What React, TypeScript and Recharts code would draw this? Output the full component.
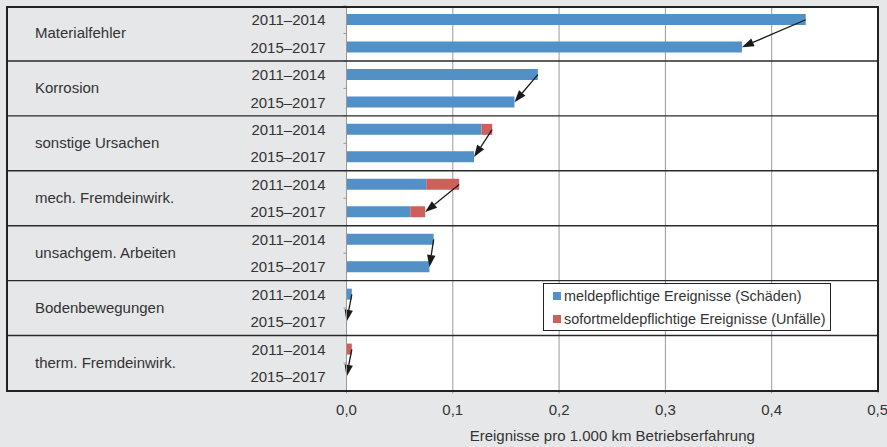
import React from 'react';
import { BarChart, Bar, XAxis, YAxis, CartesianGrid, ReferenceLine, Legend } from 'recharts';

const causes = [
  'Materialfehler',
  'Korrosion',
  'sonstige Ursachen',
  'mech. Fremdeinwirk.',
  'unsachgem. Arbeiten',
  'Bodenbewegungen',
  'therm. Fremdeinwirk.',
];
const periods = ['2011–2014', '2015–2017'];

// Ereignisse pro 1.000 km
const schaeden2011 = [0.432, 0.18, 0.127, 0.075, 0.082, 0.005, 0];
const unfaelle2011 = [0, 0, 0.01, 0.031, 0, 0, 0.005];
const schaeden2015 = [0.372, 0.158, 0.12, 0.06, 0.078, 0, 0];
const unfaelle2015 = [0, 0, 0, 0.014, 0, 0, 0];

const xTicks = [0, 0.1, 0.2, 0.3, 0.4, 0.5];

const rows = causes.flatMap((cause, i) => [
  { key: cause + '|' + periods[0], cause, period: periods[0], first: true, schaeden: schaeden2011[i], unfaelle: unfaelle2011[i] },
  { key: cause + '|' + periods[1], cause, period: periods[1], first: false, schaeden: schaeden2015[i], unfaelle: unfaelle2015[i] },
]);

const W = 887;
const H = 447;
const margin = { top: 6, right: 9, bottom: 6, left: 6 };
const yAxisWidth = 340.5;
const xAxisHeight = 50.5;
const plotH = H - margin.top - margin.bottom - xAxisHeight;
const band = plotH / rows.length;
const font = '"Liberation Sans", Arial, sans-serif';
const textColor = '#333';

const BLUE = '#5191c8';
const RED = '#cd605a';

const CauseTick = (props: any) => {
  const { y, payload, index } = props;
  const row = rows[index];
  const axisX = margin.left + yAxisWidth;
  return (
    <g>
      <text x={axisX - 21} y={y} dy="0.36em" textAnchor="end" fontSize={15} fill={textColor} fontFamily={font}>
        {row ? row.period : payload.value}
      </text>
      <line x1={axisX - 3} x2={axisX} y1={y - band / 2} y2={y - band / 2} stroke="#999" />
      {row && row.first && (
        <>
          <text x={margin.left + 29} y={y + band / 2} dy="0.3em" fontSize={15} fill={textColor} fontFamily={font}>
            {row.cause}
          </text>
          {index > 0 && (
            <line x1={margin.left} x2={W - margin.right} y1={y - band / 2} y2={y - band / 2} stroke="#2a2a2a" strokeWidth={1.4} />
          )}
        </>
      )}
    </g>
  );
};

const Arrow = (props: any) => {
  const { x1, y1, x2, y2 } = props;
  const dx = x2 - x1;
  const dy = y2 - y1;
  const len = Math.hypot(dx, dy) || 1;
  const ux = dx / len;
  const uy = dy / len;
  const head = 12;
  const half = 4.2;
  const bx = x2 - ux * head;
  const by = y2 - uy * head;
  const px = -uy * half;
  const py = ux * half;
  return (
    <g>
      <line x1={x1} y1={y1} x2={bx} y2={by} stroke="#1a1a1a" strokeWidth={1.3} />
      <polygon points={`${x2},${y2} ${bx + px},${by + py} ${bx - px},${by - py}`} fill="#1a1a1a" />
    </g>
  );
};

const LegendBox = ({ payload }: any) => (
  <div
    style={{
      background: '#fff',
      border: '1px solid #222',
      width: 288,
      boxSizing: 'border-box',
      padding: '0 0 0 9px',
      fontFamily: font,
    }}
  >
    {(payload || []).map((p: any) => (
      <div
        key={p.value}
        style={{ display: 'flex', alignItems: 'center', height: 23, fontSize: 14.4, color: textColor, whiteSpace: 'nowrap' }}
      >
        <span style={{ display: 'inline-block', width: 8, height: 8, background: p.color, marginRight: 3, flex: 'none' }} />
        {p.value}
      </div>
    ))}
  </div>
);

export default function App() {
  return (
    <div style={{ position: 'absolute', left: 0, top: 0, width: W, height: H, background: '#e6e7e9', fontFamily: font }}>
      <BarChart width={W} height={H} data={rows} layout="vertical" margin={margin} barSize={11}>
        <CartesianGrid horizontal={false} stroke="#9a9a9a" fill="#fff" />
        <XAxis
          type="number"
          domain={[0, 0.5]}
          ticks={xTicks}
          height={xAxisHeight}
          axisLine={false}
          tickSize={3}
          tickLine={{ stroke: '#999' }}
          tickMargin={11}
          tick={{ fontSize: 15, fill: textColor, fontFamily: font }}
          tickFormatter={(v: number) => v.toFixed(1).replace('.', ',')}
          label={{ value: 'Ereignisse pro 1.000 km Betriebserfahrung', position: 'insideBottom', offset: 0, fontSize: 15, fill: textColor, fontFamily: font }}
        />
        <YAxis
          type="category"
          dataKey="key"
          width={yAxisWidth}
          interval={0}
          axisLine={{ stroke: '#999' }}
          tickLine={false}
          tick={<CauseTick />}
        />
        <Bar dataKey="schaeden" name="meldepflichtige Ereignisse (Schäden)" stackId="a" fill={BLUE} isAnimationActive={false} />
        <Bar dataKey="unfaelle" name="sofortmeldepflichtige Ereignisse (Unfälle)" stackId="a" fill={RED} isAnimationActive={false} />
        {causes.map((cause, i) => (
          <ReferenceLine
            key={cause}
            ifOverflow="visible"
            segment={[
              { x: schaeden2011[i] + unfaelle2011[i], y: cause + '|' + periods[0] },
              { x: schaeden2015[i] + unfaelle2015[i], y: cause + '|' + periods[1] },
            ]}
            shape={Arrow}
          />
        ))}
        <Legend
          layout="horizontal"
          verticalAlign="middle"
          align="center"
          wrapperStyle={{ left: 543, top: 283, width: 288 }}
          content={<LegendBox />}
        />
      </BarChart>
      <div
        style={{
          position: 'absolute',
          left: margin.left,
          top: margin.top,
          width: W - margin.left - margin.right + 1,
          height: plotH + 1,
          border: '2px solid #222',
          boxSizing: 'border-box',
          pointerEvents: 'none',
        }}
      />
    </div>
  );
}
